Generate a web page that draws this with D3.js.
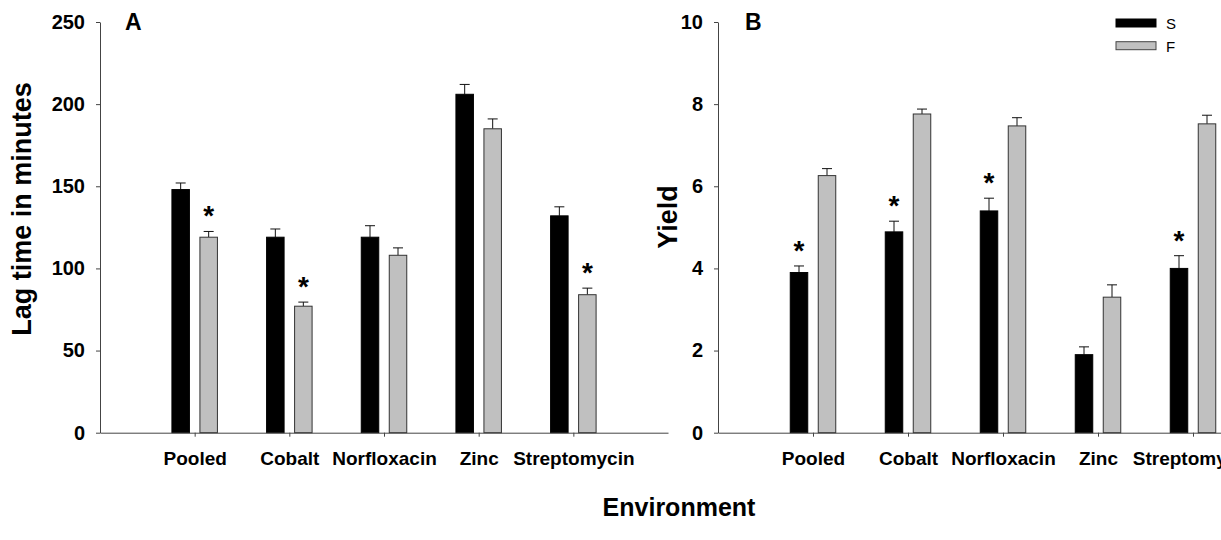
<!DOCTYPE html>
<html>
<head>
<meta charset="utf-8">
<script src="https://cdn.jsdelivr.net/npm/d3@7/dist/d3.min.js"></script>
<style>
  html, body { margin: 0; padding: 0; background: #fff; }
  svg { display: block; font-family: "Liberation Sans", Arial, sans-serif; }
</style>
</head>
<body>
<svg id="chart" width="1221" height="540"></svg>
<script>
// ---- data ----
const categories = ["Pooled", "Cobalt", "Norfloxacin", "Zinc", "Streptomycin"];
const seriesNames = ["S", "F"];

const lagS     = [148, 119, 119, 206, 132];
const lagSErr  = [4, 5, 7, 6, 5.5];
const lagF     = [119, 77, 108, 185, 84];
const lagFErr  = [3.5, 2.5, 4.5, 6, 4];
const lagSSig  = [false, false, false, false, false];
const lagFSig  = [true, true, false, false, true];

const yieldS     = [3.9, 4.89, 5.4, 1.9, 4.0];
const yieldSErr  = [0.16, 0.26, 0.31, 0.19, 0.31];
const yieldF     = [6.26, 7.76, 7.47, 3.3, 7.52];
const yieldFErr  = [0.17, 0.12, 0.2, 0.3, 0.21];
const yieldSSig  = [true, true, true, false, true];
const yieldFSig  = [false, false, false, false, false];

const lagTicks   = [0, 50, 100, 150, 200, 250];
const yieldTicks = [0, 2, 4, 6, 8, 10];

// ---- drawing ----
const svg = d3.select("#chart");
const FONT = '"Liberation Sans", Arial, sans-serif';
const AXIS = "#444";
const colors = { S: "#000000", F: "#c0c0c0" };

function panel(opts) {
  const g = svg.append("g");
  const x = d3.scaleLinear().domain([0, categories.length + 1]).range([opts.left, opts.left + opts.slot * (categories.length + 1)]);
  const y = d3.scaleLinear().domain([0, opts.max]).range([432.7, 22]);
  const barW = 17.5, off = 14;

  const rows = [];
  categories.forEach((c, i) => {
    rows.push({ s: "S", i, v: opts.S[i], e: opts.SErr[i], sig: opts.SSig[i], cx: x(i + 1) - off });
    rows.push({ s: "F", i, v: opts.F[i], e: opts.FErr[i], sig: opts.FSig[i], cx: x(i + 1) + off });
  });

  // error bars (upper only)
  const eb = g.append("g");
  rows.forEach(r => {
    eb.append("line").attr("x1", r.cx).attr("x2", r.cx)
      .attr("y1", y(r.v)).attr("y2", y(r.v + r.e))
      .attr("stroke", "#111").attr("stroke-width", 1);
    eb.append("line").attr("x1", r.cx - 5).attr("x2", r.cx + 5)
      .attr("y1", y(r.v + r.e)).attr("y2", y(r.v + r.e))
      .attr("stroke", "#111").attr("stroke-width", 1);
  });

  // bars
  g.append("g").selectAll("rect").data(rows).join("rect")
    .attr("x", d => d.cx - barW / 2)
    .attr("width", barW)
    .attr("y", d => y(d.v))
    .attr("height", d => y(0) - y(d.v))
    .attr("fill", d => colors[d.s])
    .attr("stroke", d => d.s === "F" ? "#333" : "#000")
    .attr("stroke-width", 1);

  // significance stars
  g.append("g").selectAll("text").data(rows.filter(d => d.sig)).join("text")
    .attr("x", d => d.cx)
    .attr("y", d => y(d.v + d.e) - 6)
    .attr("text-anchor", "middle")
    .attr("font-family", FONT).attr("font-weight", "bold").attr("font-size", 28)
    .attr("fill", "#000")
    .text("*");

  // y axis
  const ya = g.append("g").attr("transform", `translate(${opts.left},0)`)
    .call(d3.axisLeft(y).tickValues(opts.ticks).tickSize(4).tickSizeOuter(0).tickPadding(11));
  ya.selectAll("path,line").attr("stroke", AXIS);
  ya.selectAll("text").attr("font-family", FONT).attr("font-weight", "bold").attr("font-size", 20).attr("fill", "#000");

  // x axis
  const xa = g.append("g").attr("transform", `translate(0,${y(0)})`)
    .call(d3.axisBottom(x).tickValues(categories.map((c, i) => i + 1))
      .tickFormat(d => categories[d - 1]).tickSize(4).tickSizeOuter(0).tickPadding(15));
  xa.selectAll("path,line").attr("stroke", AXIS);
  xa.selectAll("text").attr("font-family", FONT).attr("font-weight", "bold").attr("font-size", 19).attr("fill", "#000");

  // y label
  g.append("text")
    .attr("transform", `translate(${opts.labelX},${opts.labelY}) rotate(-90)`)
    .attr("text-anchor", "middle")
    .attr("font-family", FONT).attr("font-weight", "bold").attr("font-size", 27)
    .text(opts.label);

  // panel letter
  g.append("text")
    .attr("x", opts.letterX).attr("y", 30)
    .attr("font-family", FONT).attr("font-weight", "bold").attr("font-size", 23)
    .text(opts.letter);
}

panel({ left: 100, slot: 94.67, max: 250, ticks: lagTicks,
        S: lagS, SErr: lagSErr, F: lagF, FErr: lagFErr, SSig: lagSSig, FSig: lagFSig,
        label: "Lag time in minutes", labelX: 31, labelY: 209, letter: "A", letterX: 125 });

panel({ left: 718, slot: 95, max: 10, ticks: yieldTicks,
        S: yieldS, SErr: yieldSErr, F: yieldF, FErr: yieldFErr, SSig: yieldSSig, FSig: yieldFSig,
        label: "Yield", labelX: 677, labelY: 217, letter: "B", letterX: 745 });

// legend
const lg = svg.append("g");
seriesNames.forEach((s, i) => {
  lg.append("rect").attr("x", 1116).attr("y", 19 + i * 22.7).attr("width", 40).attr("height", 8)
    .attr("fill", colors[s]).attr("stroke", s === "F" ? "#444" : "#000").attr("stroke-width", 1);
  lg.append("text").attr("x", 1166).attr("y", 29 + i * 22.7)
    .attr("font-family", FONT).attr("font-size", 15).attr("fill", "#000").text(s);
});

// shared x title
svg.append("text").attr("x", 679).attr("y", 516).attr("text-anchor", "middle")
  .attr("font-family", FONT).attr("font-weight", "bold").attr("font-size", 25)
  .text("Environment");
</script>
</body>
</html>
